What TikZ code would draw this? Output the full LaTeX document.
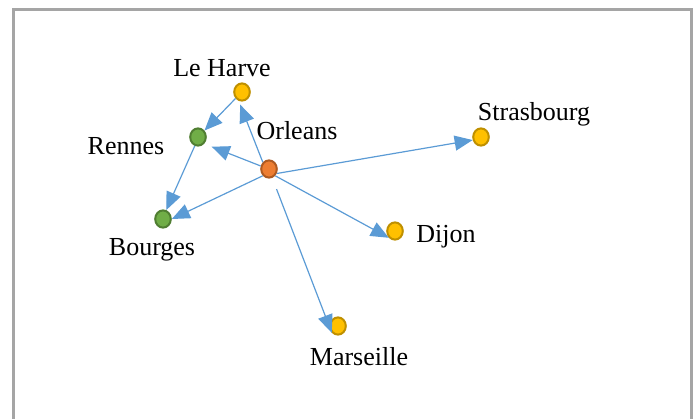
\documentclass[tikz,border=0pt]{standalone}
\usepackage{fontspec}
\setmainfont{Liberation Serif}
\usepackage{tikz}
\usetikzlibrary{arrows.meta,
    shapes.geometric}

\definecolor{townyellow}{HTML}{FFC000}
\definecolor{townyellowline}{HTML}{BF9000}
\definecolor{towngreen}{HTML}{70AD47}
\definecolor{towngreenline}{HTML}{507E32}
\definecolor{townorange}{HTML}{ED7D31}
\definecolor{townorangeline}{HTML}{AE5A21}
\definecolor{routeblue}{HTML}{5B9BD5}
\definecolor{framegray}{HTML}{A5A5A5}

\begin{document}
\begin{tikzpicture}[x=0.5pt,y=-0.5pt,
    town/.style={ellipse,line width=1pt,inner sep=0pt,minimum width=7.8pt,minimum height=8.6pt},
    ytown/.style={town,draw=townyellowline,fill=townyellow},
    gtown/.style={town,draw=towngreenline,fill=towngreen},
    otown/.style={town,draw=townorangeline,fill=townorange},
    townname/.style={inner sep=0pt,font=\fontsize{13}{15}\selectfont},
    route/.style={draw=routeblue,line width=0.6pt,-{Triangle[length=9pt,width=7.5pt]}}]
                  \useasboundingbox (0,0) rectangle (699,418);
                  \draw[framegray,line width=1.5pt] (13,430) -- (13,9.5) -- (691.5,9.5) -- (691.5,430);
                  \node[ytown] (leharve) at (242,92) {};
                  \node[gtown] (rennes) at (198,137) {};
                  \node[otown] (orleans) at (269,169) {};
                  \node[ytown] (strasbourg) at (481,137) {};
                  \node[gtown] (bourges) at (163,219) {};
                  \node[ytown] (dijon) at (395,231) {};
                  \node[ytown] (marseille) at (338,326) {};
                  \node[townname] (leharvename) at (222,68) {Le Harve};
                  \node[townname] (rennesname) at (126,146) {Rennes};
                  \node[townname] (orleansname) at (297,131) {Orleans};
                  \node[townname] (strasbourgname) at (534,114) {Strasbourg};
                  \node[townname] (bourgesname) at (152,250) {Bourges};
                  \node[townname] (dijonname) at (446,237) {Dijon};
                  \node[townname] (marseillename) at (359,357) {Marseille};
                  \draw[route,shorten >=2pt] (orleans.north west) -- (leharve.250);
                  \draw[route] (leharve.225) -- (rennes.45);
                  \draw[route,shorten >=4pt] (orleans.160) -- (rennes.south east);
                  \draw[route] (rennes.250) -- (bourges.70);
                  \draw[route] (orleans.south west) -- (bourges.east);
                  \draw[route] (orleans.-30) -- (strasbourg.200);
                  \draw[route] (orleans.south east) -- (dijon.south west);
                  \draw[route,shorten <=6pt] (orleans.-70) -- (marseille.south west);
              \end{tikzpicture}
\end{document}
